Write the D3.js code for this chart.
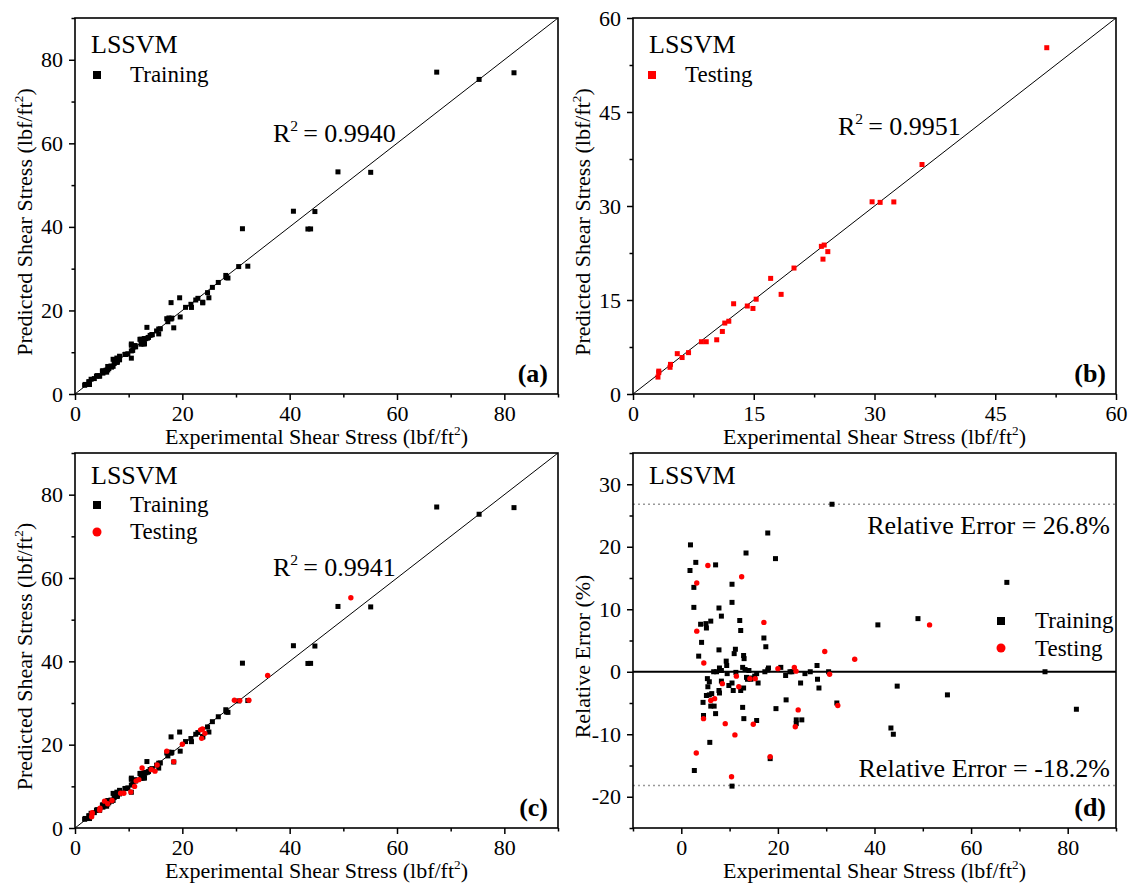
<!DOCTYPE html>
<html>
<head>
<meta charset="utf-8">
<script src="https://cdn.jsdelivr.net/npm/d3@7"></script>
<style>
  body { margin: 0; background: #fff; }
  text { font-family: "Liberation Serif", "Times New Roman", serif; fill: #000; }
</style>
</head>
<body>
<div id="container"></div>
<script>
// training set: experimental value, predicted value, relative error (%)
var trainExp = [1.8, 1.9, 2.6, 2.6, 2.7, 3.0, 3.6, 4.0, 4.2, 4.5, 4.6, 5.1, 5.2, 5.2, 5.4, 5.5, 5.8, 5.8, 5.9, 6.1,
  6.1, 6.3, 6.7, 6.8, 7.1, 7.1, 7.3, 7.8, 7.8, 7.8, 7.9, 7.9, 8.3, 8.3, 8.3, 9.3, 9.4, 9.5, 9.85, 10.5,
  10.5, 10.5, 10.75, 10.5, 10.95, 11.2, 11.3, 12.1, 12.3, 12.3, 12.7, 12.7, 12.9, 13.0, 12.9, 12.95, 13.2, 13.4, 13.5, 13.7,
  14.0, 14.3, 14.4, 15.2, 15.6, 15.9, 15.6, 17.1, 17.5, 17.3, 17.9, 18.05, 17.9, 18.4, 19.5, 19.6, 20.6, 21.6, 21.7, 22.5,
  22.9, 23.8, 23.8, 24.7, 24.95, 25.6, 26.7, 28.1, 28.2, 28.5, 30.5, 31.2, 32.2, 40.7, 43.4, 43.9, 44.7, 49.0, 55.1, 67.4,
  75.3, 81.8];
var trainPred = [2.09, 2.29, 2.95, 2.87, 2.27, 3.53, 3.69, 4.30, 4.40, 4.28, 4.28, 5.49, 5.56, 5.00, 5.34, 5.37, 5.71, 5.59, 5.23, 6.59,
  5.76, 6.08, 6.70, 6.43, 8.31, 6.62, 7.30, 8.60, 8.07, 7.57, 7.95, 7.63, 9.04, 8.32, 8.18, 9.46, 9.49, 9.47, 9.63, 11.97,
  11.67, 10.31, 10.43, 8.58, 11.27, 11.60, 11.29, 13.09, 13.11, 11.93, 12.79, 11.98, 13.24, 13.27, 12.56, 11.98, 13.25, 15.95, 13.38, 13.54,
  14.03, 14.16, 14.23, 15.09, 15.55, 15.61, 14.38, 18.02, 18.20, 17.30, 17.95, 18.16, 21.87, 15.84, 23.03, 18.44, 20.74, 21.47, 20.72, 22.5,
  22.9, 21.97, 21.82, 24.26, 23.03, 25.52, 26.7, 28.38, 27.86, 27.76, 30.5, 39.56, 30.59, 43.75, 39.49, 39.51, 43.67, 53.17, 53.06, 77.04,
  75.3, 76.89];
var trainErr = [16.2, 20.3, 13.5, 10.3, -15.8, 17.5, 2.5, 7.6, 4.7, -4.9, -7.0, 7.7, 7.0, -3.8, -1.1, -2.4, -1.6, -3.7, -11.3, 8.1,
  -5.5, -3.5, 0.0, -5.5, 17.1, -6.7, 0.0, 10.2, 3.5, -3.0, 0.6, -3.4, 8.9, 0.2, -1.5, 1.7, 1.0, -0.3, -2.2, 14.0,
  11.1, -1.8, -3.0, -18.3, 2.9, 3.6, -0.1, 8.2, 6.6, -3.0, 0.7, -5.7, 2.6, 2.1, -2.6, -7.5, 0.35, 19.0, -0.9, -1.2,
  0.2, -1.0, -1.2, -0.7, -0.3, -1.8, -7.8, 5.4, 4.0, 0.0, 0.3, 0.6, 22.2, -13.9, 18.1, -5.9, 0.7, -0.6, -4.5, 0.0,
  0.0, -7.7, -8.3, -1.8, -7.7, -0.3, 0.0, 1.0, -1.2, -2.6, 0.0, 26.8, -5.0, 7.5, -9.0, -10.0, -2.3, 8.5, -3.7, 14.3,
  0.0, -6.0];

// testing set
var testExp = [3.2, 3.2, 3.1, 4.66, 4.6, 5.5, 6.1, 6.9, 8.5, 9.1, 10.4, 11.1, 11.4, 11.9, 12.5, 14.2, 14.9, 15.3, 17.1, 18.4,
  20.0, 23.4, 23.75, 24.2, 23.6, 29.7, 30.7, 32.4, 35.9, 51.4];
var testPred = [3.65, 3.41, 2.70, 4.73, 4.26, 6.44, 5.82, 6.60, 8.34, 8.34, 8.65, 9.98, 11.32, 11.61, 14.40, 14.04, 13.65, 15.13, 18.45, 15.90,
  20.10, 23.56, 23.77, 22.72, 21.52, 30.67, 30.58, 30.65, 36.62, 55.26];
var testErr = [14.2, 6.5, -13.0, 1.4, -7.5, 17.0, -4.6, -4.3, -1.9, -8.3, -16.8, -10.1, -0.7, -2.4, 15.2, -1.1, -8.4, -1.1, 7.9, -13.6,
  0.5, 0.7, 0.1, -6.1, -8.8, 3.25, -0.4, -5.4, 2.0, 7.5];

var r2Values = ["0.9940", "0.9951", "0.9941"];
var errBounds = [26.8, -18.2];
var shearTicks = [0, 20, 40, 60, 80];
var testTicks = [0, 15, 30, 45, 60];
var errTicks = [-20, -10, 0, 10, 20, 30];

var trainData = trainExp.map(function(d, i) { return {x: d, y: trainPred[i]}; });
var testData = testExp.map(function(d, i) { return {x: d, y: testPred[i]}; });
var trainErrData = trainExp.map(function(d, i) { return {x: d, y: trainErr[i]}; });
var testErrData = testExp.map(function(d, i) { return {x: d, y: testErr[i]}; });

var svg = d3.select("#container").append("svg")
  .attr("width", 1129)
  .attr("height", 887);

var font = '"Liberation Serif", "Times New Roman", serif';

// text with a superscript "2" inside
function supText(g, x, y, size, before, after, anchor, rotate, gap) {
  var t = g.append("text")
    .attr("font-family", font)
    .attr("font-size", size)
    .attr("text-anchor", anchor || "start");
  if (rotate) t.attr("transform", "translate(" + x + "," + y + ") rotate(-90)");
  else t.attr("x", x).attr("y", y);
  t.append("tspan").text(before);
  t.append("tspan").attr("dy", -size * 0.42).attr("font-size", size * 0.6).text("2");
  t.append("tspan").attr("dy", size * 0.42).attr("dx", gap || 0).text(after);
  return t;
}

function panel(o) {
  var x = d3.scaleLinear().domain(o.xd).range([o.left, o.right]);
  var y = d3.scaleLinear().domain(o.yd).range([o.bottom, o.top]);
  var g = svg.append("g");
  var fmt = function(d) { return String(d); };

  // minor ticks
  g.append("g").attr("transform", "translate(0," + o.bottom + ")")
    .call(d3.axisBottom(x).tickValues(o.xMinor).tickSize(3.5).tickSizeOuter(0).tickFormat(""));
  g.append("g").attr("transform", "translate(" + o.left + ",0)")
    .call(d3.axisLeft(y).tickValues(o.yMinor).tickSize(3.5).tickSizeOuter(0).tickFormat(""));

  // major ticks
  var xa = g.append("g").attr("transform", "translate(0," + o.bottom + ")")
    .call(d3.axisBottom(x).tickValues(o.xMajor).tickSize(6).tickPadding(5).tickSizeOuter(0).tickFormat(fmt));
  var ya = g.append("g").attr("transform", "translate(" + o.left + ",0)")
    .call(d3.axisLeft(y).tickValues(o.yMajor).tickSize(6).tickPadding(6).tickSizeOuter(0).tickFormat(fmt));
  [xa, ya].forEach(function(a) {
    a.attr("font-family", font).attr("font-size", 22);
  });
  g.selectAll(".domain").remove();
  g.selectAll(".tick line").attr("stroke", "#000").attr("stroke-width", 1.5);

  var clip = "clip" + o.id;
  g.append("clipPath").attr("id", clip).append("rect")
    .attr("x", o.left).attr("y", o.top)
    .attr("width", o.right - o.left).attr("height", o.bottom - o.top);
  var plot = g.append("g").attr("clip-path", "url(#" + clip + ")");

  o.draw(plot, x, y);

  // frame
  g.append("rect")
    .attr("x", o.left).attr("y", o.top)
    .attr("width", o.right - o.left).attr("height", o.bottom - o.top)
    .attr("fill", "none").attr("stroke", "#000").attr("stroke-width", 1.6);

  // axis titles
  supText(g, (o.left + o.right) / 2, o.bottom + 50, 22, "Experimental Shear Stress (lbf/ft", ")", "middle");
  var cy = (o.top + o.bottom) / 2 + 16;
  if (o.yTitle) {
    g.append("text").attr("font-size", 22).attr("text-anchor", "middle")
      .attr("transform", "translate(" + (o.left - 43) + "," + cy + ") rotate(-90)")
      .text(o.yTitle);
  } else {
    supText(g, o.left - 43, cy, 22, "Predicted Shear Stress (lbf/ft", ")", "middle", true);
  }

  g.append("text").attr("x", o.left + 16).attr("y", o.top + (o.top < 100 ? 35 : 31))
    .attr("font-size", 26).text("LSSVM");
  g.append("text").attr("x", o.right - 10).attr("y", o.bottom - 12)
    .attr("font-size", 26).attr("font-weight", "bold").attr("text-anchor", "end")
    .text(o.tag);
  return g;
}

function squares(p, data, x, y, color, s) {
  p.selectAll(null).data(data).enter().append("rect")
    .attr("x", function(d) { return x(d.x) - s / 2; })
    .attr("y", function(d) { return y(d.y) - s / 2; })
    .attr("width", s).attr("height", s)
    .attr("fill", color);
}

function dots(p, data, x, y, color, r) {
  p.selectAll(null).data(data).enter().append("circle")
    .attr("cx", function(d) { return x(d.x); })
    .attr("cy", function(d) { return y(d.y); })
    .attr("r", r)
    .attr("fill", color);
}

function diagonal(p, x, y, m) {
  p.append("line")
    .attr("x1", x(0)).attr("y1", y(0)).attr("x2", x(m)).attr("y2", y(m))
    .attr("stroke", "#000").attr("stroke-width", 1);
}

function legendItem(g, mx, my, tx, ty, shape, color, label) {
  if (shape === "square") {
    g.append("rect").attr("x", mx - 4).attr("y", my - 4).attr("width", 8).attr("height", 8).attr("fill", color);
  } else {
    g.append("circle").attr("cx", mx).attr("cy", my).attr("r", 4.5).attr("fill", color);
  }
  g.append("text").attr("x", tx).attr("y", ty).attr("font-size", 23).text(label);
}

// (a) training
var ga = panel({
  id: "a", left: 75, right: 558, top: 18, bottom: 394,
  xd: [0, 90], yd: [0, 90],
  xMajor: shearTicks, xMinor: [10, 30, 50, 70, 90],
  yMajor: shearTicks, yMinor: [10, 30, 50, 70, 90],
  tag: "(a)",
  draw: function(p, x, y) {
    diagonal(p, x, y, 90);
    squares(p, trainData, x, y, "#000", 5);
  }
});
legendItem(ga, 97, 75, 130, 82, "square", "#000", "Training");
supText(ga, 273, 142, 26, "R", "= " + r2Values[0], "start", false, 5);

// (b) testing
var gb = panel({
  id: "b", left: 633, right: 1116, top: 18, bottom: 394,
  xd: [0, 60], yd: [0, 60],
  xMajor: testTicks, xMinor: [7.5, 22.5, 37.5, 52.5],
  yMajor: testTicks, yMinor: [7.5, 22.5, 37.5, 52.5],
  tag: "(b)",
  draw: function(p, x, y) {
    diagonal(p, x, y, 60);
    squares(p, testData, x, y, "#f00", 5);
  }
});
legendItem(gb, 652, 75, 685, 82, "square", "#f00", "Testing");
supText(gb, 838, 135, 26, "R", "= " + r2Values[1], "start", false, 5);

// (c) all data
var gc = panel({
  id: "c", left: 75, right: 558, top: 453, bottom: 828,
  xd: [0, 90], yd: [0, 90],
  xMajor: shearTicks, xMinor: [10, 30, 50, 70, 90],
  yMajor: shearTicks, yMinor: [10, 30, 50, 70, 90],
  tag: "(c)",
  draw: function(p, x, y) {
    diagonal(p, x, y, 90);
    squares(p, trainData, x, y, "#000", 5);
    dots(p, testData, x, y, "#f00", 2.7);
  }
});
legendItem(gc, 97, 505, 130, 512, "square", "#000", "Training");
legendItem(gc, 97, 532, 130, 539, "circle", "#f00", "Testing");
supText(gc, 273, 576, 26, "R", "= " + r2Values[2], "start", false, 5);

// (d) relative error
var gd = panel({
  id: "d", left: 633, right: 1116, top: 453, bottom: 828,
  xd: [-10, 90], yd: [-25, 35],
  xMajor: shearTicks, xMinor: [-10, 10, 30, 50, 70, 90],
  yMajor: errTicks, yMinor: [-25, -15, -5, 5, 15, 25, 35],
  tag: "(d)",
  yTitle: "Relative Error (%)",
  draw: function(p, x, y) {
    errBounds.forEach(function(v) {
      p.append("line")
        .attr("x1", x(-10)).attr("x2", x(90)).attr("y1", y(v)).attr("y2", y(v))
        .attr("stroke", "#999").attr("stroke-width", 1.3).attr("stroke-dasharray", "2,3");
    });
    p.append("line")
      .attr("x1", x(-10)).attr("x2", x(90)).attr("y1", y(0)).attr("y2", y(0))
      .attr("stroke", "#000").attr("stroke-width", 2);
    squares(p, trainErrData, x, y, "#000", 5);
    dots(p, testErrData, x, y, "#f00", 2.7);
  }
});
legendItem(gd, 1001, 621, 1035, 628, "square", "#000", "Training");
legendItem(gd, 1001, 648, 1035, 656, "circle", "#f00", "Testing");
gd.append("text").attr("x", 1110).attr("y", 534).attr("font-size", 26).attr("text-anchor", "end")
  .text("Relative Error = " + errBounds[0] + "%");
gd.append("text").attr("x", 1110).attr("y", 777).attr("font-size", 26).attr("text-anchor", "end")
  .text("Relative Error = " + errBounds[1] + "%");
</script>
</body>
</html>
